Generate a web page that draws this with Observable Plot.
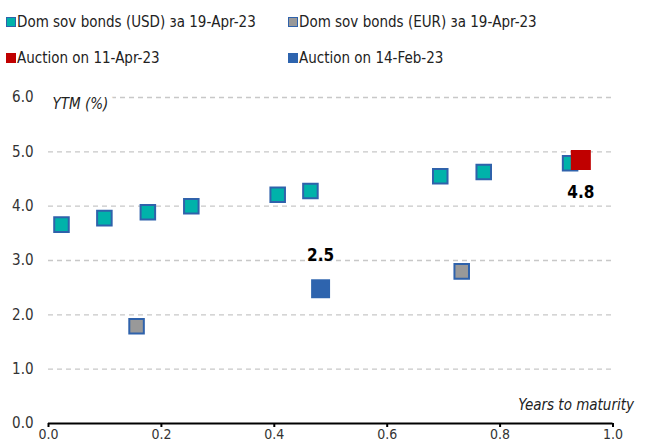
<!DOCTYPE html>
<html>
<head>
<meta charset="utf-8">
<script src="https://cdn.jsdelivr.net/npm/d3@7"></script>
<script src="https://cdn.jsdelivr.net/npm/@observablehq/plot@0.6"></script>
<style>
  html, body { margin: 0; padding: 0; background: #fff; overflow: hidden; }
  body { width: 647px; height: 444px; font-family: "Liberation Sans Narrow", "Arial Narrow", "DejaVu Sans Condensed", sans-serif; }
  #legend { position: relative; height: 80px; font-size: 15px; color: #222; }
  .item { position: absolute; display: flex; align-items: center; white-space: nowrap; }
  .sw { width: 8px; height: 8px; margin-right: 1px; box-sizing: content-box; }
  #chart svg { display: block; }
</style>
</head>
<body>
<div id="legend"></div>
<div id="chart"></div>
<script>
// Data
const usdYears = [0.023, 0.099, 0.176, 0.253, 0.406, 0.464, 0.694, 0.771, 0.924];
const usdYtm   = [3.66, 3.78, 3.89, 4.00, 4.21, 4.28, 4.55, 4.63, 4.79];
const eurYears = [0.156, 0.732];
const eurYtm   = [1.79, 2.80];
const aprYears = [0.943];
const aprYtm   = [4.85];
const aprLabel = ["4.8"];
const febYears = [0.482];
const febYtm   = [2.48];
const febLabel = ["2.5"];
const yTicks = [0, 1, 2, 3, 4, 5, 6];
const xTicks = [0, 0.2, 0.4, 0.6, 0.8, 1.0];
const seriesNames = [
  "Dom sov bonds (USD) за 19-Apr-23",
  "Dom sov bonds (EUR) за 19-Apr-23",
  "Auction on 11-Apr-23",
  "Auction on 14-Feb-23"
];

const TEAL = "#00b2aa", GRAY = "#999999", RED = "#c00000", BLUE = "#2e64ae", EDGE = "#2f62ab";

// Legend
const legendStyles = [
  {fill: TEAL, border: EDGE, left: 6, top: 13},
  {fill: GRAY, border: EDGE, left: 288, top: 13},
  {fill: RED, border: RED, left: 6, top: 49},
  {fill: BLUE, border: BLUE, left: 288, top: 49}
];
const legend = document.getElementById("legend");
seriesNames.forEach((name, i) => {
  const s = legendStyles[i];
  const d = document.createElement("div");
  d.className = "item";
  d.style.left = s.left + "px";
  d.style.top = s.top + "px";
  d.innerHTML = `<span class="sw" style="background:${s.fill};border:1.5px solid ${s.border}"></span><span>${name}</span>`;
  legend.appendChild(d);
});

const usd = usdYears.map((x, i) => ({x, y: usdYtm[i]}));
const eur = eurYears.map((x, i) => ({x, y: eurYtm[i]}));
const apr = aprYears.map((x, i) => ({x, y: aprYtm[i], label: aprLabel[i]}));
const feb = febYears.map((x, i) => ({x, y: febYtm[i], label: febLabel[i]}));

const chart = Plot.plot({
  width: 647,
  height: 364,
  marginLeft: 48,
  marginRight: 34.5,
  marginTop: 17,
  marginBottom: 21,
  style: {fontFamily: '"Liberation Sans Narrow", "Arial Narrow", "DejaVu Sans Condensed", sans-serif', fontSize: "15px", color: "#333", background: "#fff"},
  x: {domain: [0, 1], ticks: xTicks, tickFormat: d3.format(".1f"), label: null},
  y: {domain: [0, 6], ticks: yTicks, tickFormat: d3.format(".1f"), label: null},
  marks: [
    Plot.ruleY(yTicks.filter(d => d > 0), {stroke: "#c8c8c8", strokeWidth: 1.3, strokeDasharray: "5,4"}),
    Plot.axisY({ticks: yTicks, tickFormat: d3.format(".1f"), tickSize: 0, tickPadding: 15, label: null, fontSize: 15, fill: "#333"}),
    Plot.axisX({ticks: xTicks, tickFormat: d3.format(".1f"), tickSize: 4, tickPadding: 2, label: null, stroke: "#000", strokeWidth: 2, fontSize: 14, fill: "#333"}),
    Plot.ruleY([0], {stroke: "#000", strokeWidth: 2}),
    Plot.text(["YTM (%)"], {x: () => 0, y: () => 6, text: d => d, textAnchor: "start", dx: 4, dy: 7, fontStyle: "italic", fontSize: 15, fill: "#222", stroke: "white", strokeWidth: 12}),
    Plot.text(["Years to maturity"], {x: () => 1, y: () => 0, text: d => d, textAnchor: "end", dx: 21, dy: -18, fontStyle: "italic", fontSize: 15, fill: "#222"}),
    Plot.dot(eur, {x: "x", y: "y", symbol: "square", r: 8.2, fill: GRAY, stroke: EDGE, strokeWidth: 2}),
    Plot.dot(usd, {x: "x", y: "y", symbol: "square", r: 8.2, fill: TEAL, stroke: EDGE, strokeWidth: 2}),
    Plot.dot(feb, {x: "x", y: "y", symbol: "square", r: 10.7, fill: BLUE, stroke: "none"}),
    Plot.dot(apr, {x: "x", y: "y", symbol: "square", r: 11.3, fill: RED, stroke: "none"}),
    Plot.text(feb, {x: "x", y: "y", text: "label", dy: -33, fontWeight: "bold", fontSize: 17, fill: "#000"}),
    Plot.text(apr, {x: "x", y: "y", text: "label", dy: 33, fontWeight: "bold", fontSize: 17, fill: "#000"})
  ]
});
document.getElementById("chart").appendChild(chart);
</script>
</body>
</html>
